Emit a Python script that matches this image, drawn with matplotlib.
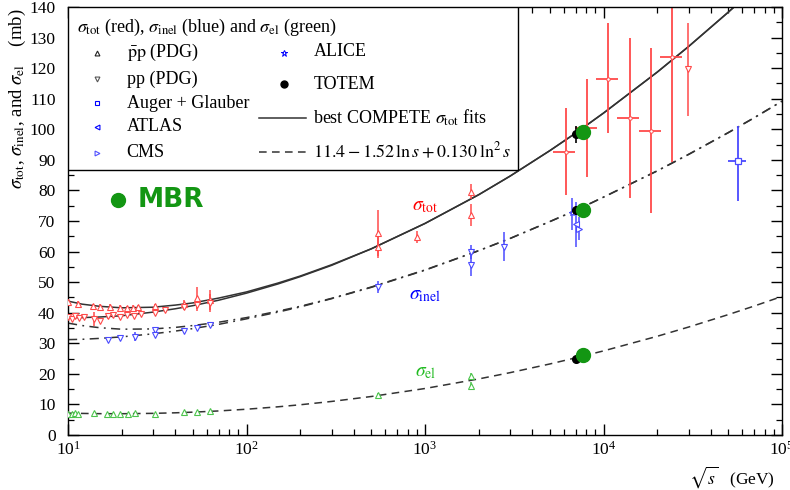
import numpy as np
import matplotlib
matplotlib.use('Agg')
import matplotlib.pyplot as plt
from matplotlib.patches import Rectangle
from matplotlib.ticker import MultipleLocator, LogLocator, NullFormatter

plt.rcParams['font.family'] = ['Liberation Serif', 'DejaVu Serif']
plt.rcParams['mathtext.fontset'] = 'stix'

# curves: sqrt(s) [GeV], sigma [mb]
fit_E = [10, 12, 15, 20, 30, 40, 50, 70, 100, 150, 200, 300, 500, 1000,
         2000, 3000, 5000, 7000, 1e4, 2e4, 3e4, 5e4, 7e4, 1e5]
tot_pp_fit = [38.4, 38.4, 38.6, 39.0, 40.2, 41.3, 42.3, 44.1, 46.4, 49.4, 51.8, 55.5,
              60.9, 69.2, 78.6, 84.7, 93.0, 98.8, 105.3, 118.7, 127.1, 138.3, 146.0, 154.5]
tot_pbp_fit = [43.8, 42.8, 42.1, 41.6, 41.8, 42.5, 43.2, 44.8, 46.8, 49.7, 52.0, 55.7,
               60.9, 69.2, 78.6, 84.7, 93.0, 98.8, 105.3, 118.7, 127.1, 138.3, 146.0, 154.5]
inel_pp_fit = [31.2, 31.3, 31.6, 32.1, 33.1, 34.0, 34.8, 36.2, 38.0, 40.2, 41.9, 44.6,
               48.3, 53.9, 60.3, 64.3, 69.8, 73.5, 77.8, 86.4, 91.8, 98.9, 103.8, 109.2]
inel_pbp_fit = [36.6, 35.8, 35.1, 34.6, 34.7, 35.2, 35.8, 36.9, 38.4, 40.5, 42.1, 44.7,
                48.4, 54.0, 60.3, 64.3, 69.8, 73.5, 77.8, 86.4, 91.8, 98.9, 103.8, 109.2]
el_fit = [7.16, 7.06, 6.98, 6.96, 7.08, 7.26, 7.47, 7.87, 8.43, 9.22, 9.89, 10.98,
          12.59, 15.21, 18.34, 20.40, 23.23, 25.25, 27.51, 32.29, 35.32, 39.38, 42.2, 45.33]

# sigma_tot, pbar-p (PDG)
pbp_tot_E = [10.0, 11.4, 13.8, 15.1, 17.2, 19.6, 21.3, 23.0, 24.8, 30.7, 44.7, 52.6, 62.5,
             546, 546, 900, 1800, 1800]
pbp_tot = [43.6, 43.0, 42.2, 42.0, 41.8, 41.6, 41.6, 41.7, 41.9, 42.3, 43.0, 44.8, 44.2,
           66.0, 61.4, 64.7, 79.6, 72.0]
pbp_tot_err = [0.8, 0.7, 0.6, 0.8, 1.2, 0.9, 0.6, 0.8, 0.7, 0.6, 1.2, 3.5, 3.3,
               7.6, 3.5, 2.0, 2.4, 3.5]

# sigma_tot, pp (PDG)
pp_tot_E = [10.0, 10.5, 11.0, 11.5, 12.3, 13.9, 15.1, 16.7, 17.9, 19.6, 21.3, 23.5, 25.7,
            30.7, 35.0, 44.7, 52.6, 62.5, 29850]
pp_tot = [38.6, 38.0, 38.9, 38.3, 38.5, 38.0, 37.3, 38.8, 39.2, 38.6, 39.3, 38.9, 39.5,
          40.0, 40.8, 41.8, 42.6, 43.2, 119.6]
pp_tot_err = [0.6, 0.5, 0.7, 0.5, 0.6, 2.3, 0.8, 1.0, 0.9, 0.7, 0.8, 0.6, 0.7,
              0.5, 0.6, 0.8, 2.0, 3.0, 15.2]

# cosmic-ray sigma_tot points with energy bins
cr_E = [6140, 8050, 10540, 14060, 18350, 24270]
cr_E_lo = [5210, 6920, 9080, 11940, 15800, 20750]
cr_E_hi = [6920, 9200, 12020, 15870, 20900, 27670]
cr_tot = [92.6, 100.4, 116.6, 103.7, 99.5, 123.5]
cr_err_lo = [14.1, 16.0, 17.9, 26.3, 26.8, 34.1]
cr_err_hi = [14.3, 16.1, 18.1, 26.1, 27.2, 30.0]

# sigma_inel (PDG)
inel_E = [16.7, 19.6, 23.7, 30.7, 30.7, 44.7, 52.6, 62.5, 546, 1800, 1800, 2760]
inel = [31.2, 31.6, 32.1, 34.3, 32.7, 34.1, 34.9, 36.0, 48.3, 60.0, 55.6, 61.6]
inel_err = [0.5, 0.5, 1.5, 0.8, 0.6, 0.6, 0.7, 0.8, 2.0, 2.3, 3.5, 4.8]

# LHC / Auger sigma_inel
alice_E, alice, alice_lo, alice_hi = [6700], [72.7], [5.6], [4.7]
atlas_E, atlas, atlas_lo, atlas_hi = [7000], [69.0], [7.4], [7.3]
cms_E, cms, cms_lo, cms_hi = [7300], [67.5], [3.7], [3.9]
auger_E, auger_E_lo, auger_E_hi = [57000], [50000], [62800]
auger, auger_lo, auger_hi = [89.5], [12.9], [11.6]

# sigma_el (PDG)
el_E = [10.0, 10.5, 10.9, 11.4, 13.9, 16.5, 17.9, 19.6, 21.8, 23.7, 30.7, 44.7, 52.6, 62.5,
        546, 1800, 1800]
el = [7.0, 6.8, 7.2, 6.9, 7.1, 6.9, 7.0, 6.8, 6.9, 7.2, 7.0, 7.4, 7.6, 7.7, 13.1, 19.4, 16.0]
el_err = [0.3, 0.3, 0.3, 0.3, 0.3, 0.3, 0.3, 0.3, 0.3, 0.3, 0.3, 0.4, 0.4, 0.4, 0.6, 1.0, 1.3]

# TOTEM (tot, inel, el) and MBR predictions
totem_E = [7000, 7000, 7000]
totem = [98.3, 73.5, 24.8]
totem_err = [2.8, 1.5, 1.0]
mbr_E = [7700, 7700, 7700]
mbr = [99.1, 73.5, 26.2]

red = '#ff4a4a'
blue = '#4a4aff'
green = '#4cc44c'
mbr_green = '#139613'
curve = '#333333'

fig = plt.figure(figsize=(7.9, 4.9), dpi=100)
ax = fig.add_axes([68/790, 55/490, 714/790, 428/490])

ax.plot(fit_E, tot_pp_fit, '-', color=curve, lw=1.1)
ax.plot(fit_E, tot_pbp_fit, '-', color=curve, lw=1.1)
ax.plot(fit_E, inel_pp_fit, color=curve, lw=1.1, dashes=(6, 3.5, 1.2, 3.5))
ax.plot(fit_E, inel_pbp_fit, color=curve, lw=1.1, dashes=(6, 3.5, 1.2, 3.5))
ax.plot(fit_E, el_fit, color=curve, lw=1.1, dashes=(5, 3.5))

pkw = dict(ls='none', ms=4, mfc='white', mew=0.8, elinewidth=1.1, capsize=0, zorder=3)
ax.errorbar(pbp_tot_E, pbp_tot, yerr=pbp_tot_err, marker='^', color=red, **pkw)
ax.errorbar(pp_tot_E, pp_tot, yerr=pp_tot_err, marker='v', color=red, **pkw)
cr_xerr = [np.array(cr_E) - np.array(cr_E_lo), np.array(cr_E_hi) - np.array(cr_E)]
ax.errorbar(cr_E, cr_tot, xerr=cr_xerr, yerr=[cr_err_lo, cr_err_hi], marker='o',
            color=red, ls='none', ms=2.5, mfc='white', mew=0.7, elinewidth=1.3, capsize=0)
ax.errorbar(inel_E, inel, yerr=inel_err, marker='v', color=blue, **pkw)
ax.errorbar(el_E, el, yerr=el_err, marker='^', color=green, **pkw)

ax.errorbar(alice_E, alice, yerr=[alice_lo, alice_hi], marker='*', color=blue, **pkw)
ax.errorbar(atlas_E, atlas, yerr=[atlas_lo, atlas_hi], marker='<', color=blue, **pkw)
ax.errorbar(cms_E, cms, yerr=[cms_lo, cms_hi], marker='>', color=blue, **pkw)
auger_xerr = [[auger_E[0] - auger_E_lo[0]], [auger_E_hi[0] - auger_E[0]]]
ax.errorbar(auger_E, auger, xerr=auger_xerr, yerr=[auger_lo, auger_hi], marker='s',
            color=blue, ls='none', ms=4, mfc='white', mew=0.9, elinewidth=1.3, capsize=0)

ax.errorbar(totem_E, totem, yerr=totem_err, fmt='o', color='black', ms=5.5,
            elinewidth=1.2, capsize=0, zorder=4)
ax.plot(mbr_E, mbr, 'o', color=mbr_green, ms=10, zorder=5)

ax.set_xscale('log')
ax.set_xlim(10, 1e5)
ax.set_ylim(0, 140)
ax.yaxis.set_major_locator(MultipleLocator(10))
ax.yaxis.set_minor_locator(MultipleLocator(5))
ax.xaxis.set_major_locator(LogLocator(base=10, numticks=10))
ax.xaxis.set_minor_locator(LogLocator(base=10, subs=np.arange(2, 10), numticks=20))
ax.xaxis.set_minor_formatter(NullFormatter())
ax.tick_params(which='both', direction='in', top=True, right=True, labelsize=12.5,
               colors='black')
ax.tick_params(which='major', length=8, width=1)
ax.tick_params(which='minor', length=4, width=0.9)
ax.tick_params(axis='y', pad=9)
ax.tick_params(axis='x', pad=4)
for sp in ax.spines.values():
    sp.set_linewidth(1)

# curve labels
ax.text(0.482, 0.533, r'$\sigma_{\rm tot}$', color='red', fontsize=14, va='center',
        transform=ax.transAxes)
ax.text(0.478, 0.325, r'$\sigma_{\rm inel}$', color='blue', fontsize=14, va='center',
        transform=ax.transAxes)
ax.text(0.486, 0.147, r'$\sigma_{\rm el}$', color='#22bb22', fontsize=14, va='center',
        transform=ax.transAxes)

# MBR tag
ax.plot([0.070], [0.549], 'o', color=mbr_green, ms=10, transform=ax.transAxes, clip_on=False)
ax.text(0.097, 0.549, 'MBR', color=mbr_green, fontsize=19, fontweight='bold',
        family='DejaVu Sans', va='center', transform=ax.transAxes)

# legend box
ax.add_patch(Rectangle((0, 0.619), 0.630, 0.381, transform=ax.transAxes,
                       facecolor='white', edgecolor='black', lw=1, zorder=6))
lt = dict(transform=ax.transAxes, fontsize=13, va='center', zorder=7)
ax.text(0.0126, 0.952, r'$\sigma_{\rm tot}$ (red), $\sigma_{\rm inel}$ (blue) and '
        r'$\sigma_{\rm el}$ (green)', **lt)
col1 = [(r'$\bar{\rm p}{\rm p}$ (PDG)', '^', '#222222'),
        (r'pp (PDG)', 'v', '#555555'),
        ('Auger + Glauber', 's', 'blue'),
        ('ATLAS', '<', 'blue'),
        ('CMS', '>', '#5050ff')]
rows1 = [0.893, 0.831, 0.775, 0.720, 0.660]
for (lab, mk, c), yy in zip(col1, rows1):
    ax.plot([0.040], [yy], marker=mk, color=c, ms=3.5, mfc='white', mew=0.8,
            transform=ax.transAxes, zorder=7, clip_on=False)
    ax.text(0.0822, yy, lab, **lt)
ax.plot([0.3025], [0.893], marker='*', color='blue', ms=4.5, mfc='white', mew=0.7,
        transform=ax.transAxes, zorder=7)
ax.text(0.3436, 0.895, 'ALICE', **lt)
ax.plot([0.3025], [0.819], 'o', color='black', ms=5, transform=ax.transAxes, zorder=7)
ax.text(0.3436, 0.819, 'TOTEM', **lt)
ax.plot([0.268, 0.334], [0.740, 0.740], '-', color=curve, lw=1.1,
        transform=ax.transAxes, zorder=7)
ax.text(0.3436, 0.740, r'best COMPETE $\sigma_{\rm tot}$ fits', **lt)
ax.plot([0.268, 0.334], [0.662, 0.662], color=curve, lw=1.1, dashes=(5, 3.5),
        transform=ax.transAxes, zorder=7)
ax.text(0.3436, 0.662, r'$11.4 - 1.52\,\ln s + 0.130\,\ln^2 s$', **lt)

fig.text(17/790, 1 - 8/490, r'$\sigma_{\rm tot}$, $\sigma_{\rm inel}$, and $\sigma_{\rm el}$    (mb)',
         rotation=90, ha='center', va='top', fontsize=13.5)
fig.text(775/790, 13/490, r'$\sqrt{s}$   (GeV)', ha='right', va='center', fontsize=12.5)

fig.savefig('out.png', dpi=100)
